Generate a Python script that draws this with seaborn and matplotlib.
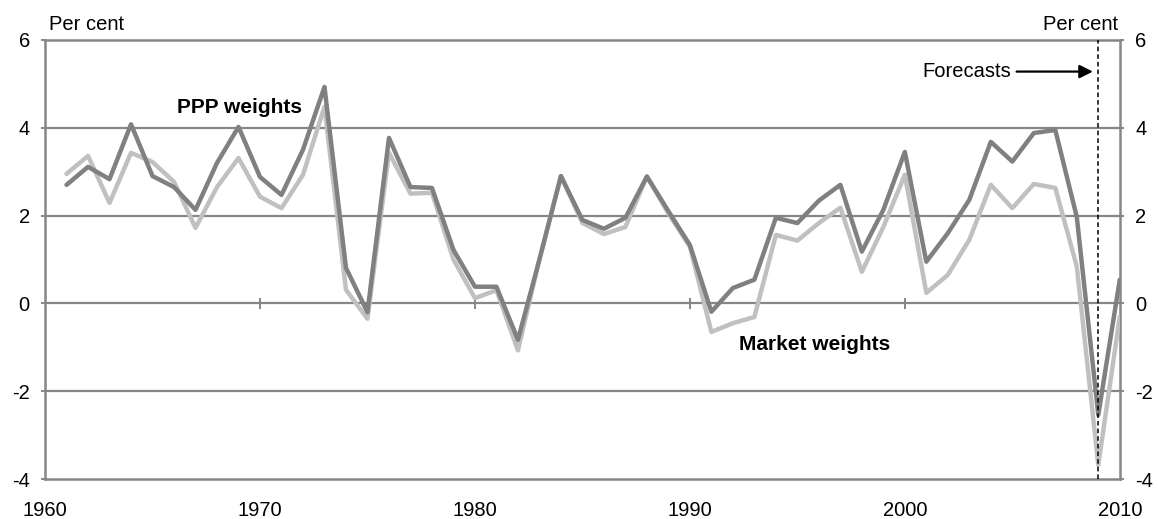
import numpy as np
import pandas as pd
import seaborn as sns
import matplotlib.pyplot as plt

# annual growth, per cent
years = list(range(1961, 2011))
ppp = [2.70, 3.11, 2.83, 4.08, 2.90, 2.65, 2.13, 3.20, 4.02, 2.88,
       2.47, 3.50, 4.93, 0.81, -0.20, 3.77, 2.65, 2.63, 1.22, 0.38,
       0.38, -0.83, 1.00, 2.90, 1.90, 1.70, 1.95, 2.89, 2.10, 1.33,
       -0.19, 0.35, 0.54, 1.95, 1.83, 2.34, 2.70, 1.18, 2.13, 3.45,
       0.95, 1.60, 2.36, 3.68, 3.23, 3.88, 3.95, 1.97, -2.54, 0.54]
market = [2.95, 3.36, 2.29, 3.43, 3.22, 2.77, 1.72, 2.65, 3.31, 2.43,
          2.17, 2.93, 4.48, 0.31, -0.35, 3.43, 2.50, 2.52, 1.00, 0.12,
          0.30, -1.07, 1.00, 2.90, 1.83, 1.58, 1.74, 2.89, 2.05, 1.29,
          -0.65, -0.45, -0.31, 1.56, 1.43, 1.83, 2.18, 0.72, 1.74, 2.93,
          0.24, 0.65, 1.45, 2.70, 2.17, 2.72, 2.63, 0.84, -3.68, -0.30]
y_ticks = [-4, -2, 0, 2, 4, 6]
x_ticks = [1960, 1970, 1980, 1990, 2000, 2010]
forecast_year = 2009

df = pd.DataFrame({"Year": years * 2,
                   "Growth": ppp + market,
                   "Series": ["PPP weights"] * len(years) + ["Market weights"] * len(years)})

sns.set_style("white")
plt.rcParams['font.family'] = ['Liberation Sans', 'DejaVu Sans']
plt.rcParams['font.size'] = 14.5
plt.rcParams['text.color'] = 'black'
plt.rcParams['xtick.color'] = 'black'
plt.rcParams['ytick.color'] = 'black'
plt.rcParams['axes.unicode_minus'] = False

fig, ax = plt.subplots(figsize=(11.58, 5.19), dpi=100)
fig.subplots_adjust(left=0.0389, right=0.967, top=0.923, bottom=0.077)

grid_col = "#868686"
for v in y_ticks[1:-1]:
    ax.axhline(v, color=grid_col, lw=1.6, zorder=1)
ax.vlines(x_ticks[1:-1], -0.12, 0.12, color=grid_col, lw=1.4, zorder=1)

sns.lineplot(data=df, x="Year", y="Growth", hue="Series",
             hue_order=["Market weights", "PPP weights"],
             palette=["#c0c0c0", "#808080"], linewidth=3.2,
             legend=False, ax=ax, zorder=3)

ax.axvline(forecast_year, color="black", lw=1.1, ls=(0, (3, 2)), zorder=4)
ax.annotate("", xy=(forecast_year - 0.25, 5.28), xytext=(2005.2, 5.28),
            arrowprops=dict(arrowstyle="-|>", color="black", lw=1.6,
                            mutation_scale=20, shrinkA=0, shrinkB=0), zorder=5)
ax.text(2004.95, 5.28, "Forecasts", ha="right", va="center", fontsize=14.5)

ax.text(1969.06, 4.46, "PPP weights", ha="center", va="center",
        fontsize=15, fontweight="bold")
ax.text(1995.8, -0.94, "Market weights", ha="center", va="center",
        fontsize=15, fontweight="bold")

ax.set_xlim(x_ticks[0], x_ticks[-1])
ax.set_ylim(y_ticks[0], y_ticks[-1])
ax.set_xticks(x_ticks)
ax.set_yticks(y_ticks)
ax.set_xlabel("")
ax.set_ylabel("")
ax.tick_params(axis="x", length=0, pad=16)
ax.tick_params(axis="y", length=3, color=grid_col, width=1.4,
               left=True, right=True, labelleft=True, labelright=True, pad=8)
for s in ax.spines.values():
    s.set_color(grid_col)
    s.set_linewidth(1.8)

ax.text(0.004, 1.022, "Per cent", transform=ax.transAxes, ha="left", va="baseline")
ax.text(0.998, 1.022, "Per cent", transform=ax.transAxes, ha="right", va="baseline")

fig.savefig("out.png", dpi=100)
